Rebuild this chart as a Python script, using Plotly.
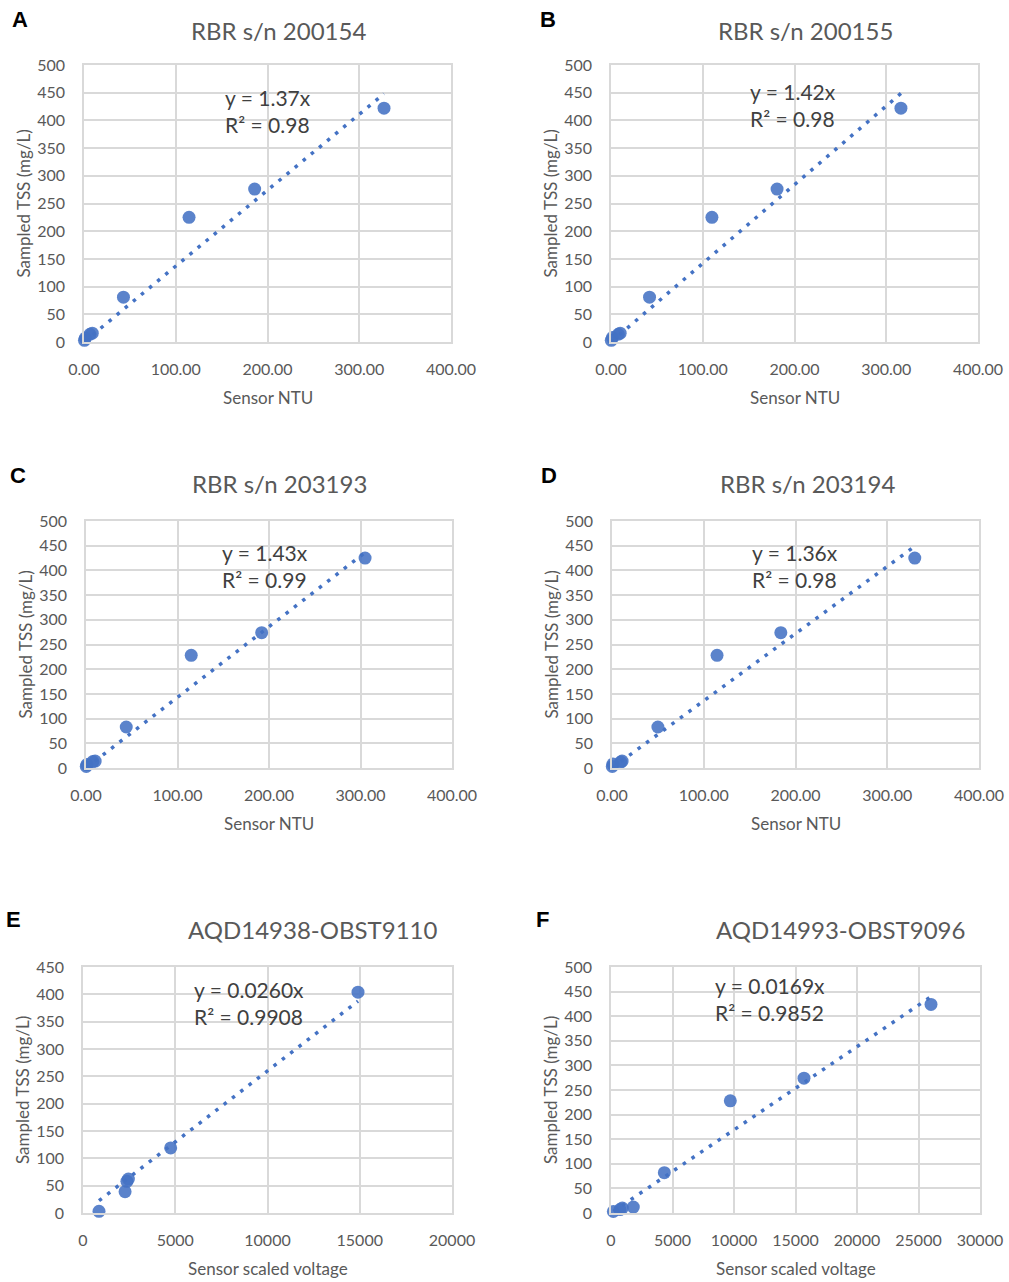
import plotly.graph_objects as go

W, H = 1009, 1282

# ---------------- data ----------------
letters = ["A", "B", "C", "D", "E", "F"]
titles = ["RBR s/n 200154", "RBR s/n 200155", "RBR s/n 203193",
          "RBR s/n 203194", "AQD14938-OBST9110", "AQD14993-OBST9096"]
x_titles = ["Sensor NTU", "Sensor NTU", "Sensor NTU", "Sensor NTU",
            "Sensor scaled voltage", "Sensor scaled voltage"]
y_title = "Sampled TSS (mg/L)"

a_x = [0.5, 1.5, 6.5, 9, 43, 114.5, 186, 327]
a_y = [3, 7, 14, 16, 81, 225, 276, 422]
b_x = [0.3, 1.5, 8, 10, 42, 110, 181, 316]
b_y = [3, 8, 14, 16, 81, 225, 276, 422]
c_x = [0.3, 1, 7.5, 10, 44, 115, 192, 305]
c_y = [3, 7, 13, 14, 83, 228, 274, 425]
d_x = [0.3, 1, 9.5, 11, 50, 114.5, 184, 330]
d_y = [3, 8, 12, 14, 83, 228, 274, 425]
e_x = [867, 2280, 2380, 2460, 4752, 14905]
e_y = [3, 39, 58, 62, 119, 404]
f_x = [190, 730, 920, 1815, 4336, 9700, 15690, 26016]
f_y = [3, 7, 10, 12, 82, 228, 274, 424]

slopes = [1.37, 1.42, 1.43, 1.36, 0.0260, 0.0169]
eq_text = ["y = 1.37x", "y = 1.42x", "y = 1.43x", "y = 1.36x",
           "y = 0.0260x", "y = 0.0169x"]
r2_text = ["R² = 0.98", "R² = 0.98", "R² = 0.99", "R² = 0.98",
           "R² = 0.9908", "R² = 0.9852"]

x_ranges = [[0, 400]] * 4 + [[0, 20000], [0, 30000]]
x_dticks = [100] * 4 + [5000, 5000]
x_formats = [".2f"] * 4 + ["d", "d"]
y_ranges = [[0, 500]] * 4 + [[0, 450], [0, 500]]

series = [(a_x, a_y), (b_x, b_y), (c_x, c_y), (d_x, d_y), (e_x, e_y), (f_x, f_y)]

# ---------------- layout (pixel boxes of plot areas) ----------------
boxes = [  # left, top, right, bottom
    (84, 65, 451, 342), (611, 65, 978, 342),
    (86, 521, 452, 768), (612, 521, 979, 768),
    (83, 967, 452, 1213), (611, 967, 980, 1213),
]
title_pos = [(278, 30), (805, 30), (279, 483), (807, 483), (312, 929), (840, 929)]
letter_pos = [(20, 20), (548, 20), (18, 476), (549, 476), (13, 919), (542, 919)]
eq_pos = [(223, 111), (748, 105), (220, 566), (750, 566), (192, 1003), (713, 999)]

BLUE = "#4472C4"
GRID = "#D9D9D9"
TXT = "#595959"
FONT = "Lato"

def px(x):
    return x / W

def py(y):
    return 1 - y / H

fig = go.Figure()
annotations = []

for i, ((xs, ys), box) in enumerate(zip(series, boxes)):
    n = "" if i == 0 else str(i + 1)
    xa, ya = "x" + n, "y" + n
    l, t, r, b = box
    x0, x1 = min(xs), max(xs)
    fig.add_trace(go.Scatter(
        x=[x0, x1], y=[slopes[i] * x0, slopes[i] * x1], mode="lines",
        xaxis=xa, yaxis=ya,
        line=dict(color=BLUE, width=3.5, dash="3.5px,7px"),
        showlegend=False, hoverinfo="skip"))
    fig.add_trace(go.Scatter(
        x=xs, y=ys, mode="markers", xaxis=xa, yaxis=ya, cliponaxis=False,
        marker=dict(color=BLUE, size=13, symbol="circle", opacity=0.88,
                    line=dict(width=0)),
        showlegend=False, hoverinfo="x+y"))

    axcommon = dict(showgrid=True, gridcolor=GRID, gridwidth=1.5,
                    showline=True, linecolor=GRID, linewidth=1.5, mirror=True,
                    zeroline=False, ticks="", automargin=False,
                    tickfont=dict(family=FONT, size=16, color=TXT))
    fig.layout["xaxis" + n] = dict(
        domain=[px(l), px(r)], anchor=ya, range=x_ranges[i],
        dtick=x_dticks[i], tick0=0, tickformat=x_formats[i],
        ticklabelstandoff=12, **axcommon)
    fig.layout["yaxis" + n] = dict(
        domain=[py(b), py(t)], anchor=xa, range=y_ranges[i],
        dtick=50, tick0=0, ticklabelstandoff=14, **axcommon)

    # chart title
    tx, ty = title_pos[i]
    annotations.append(dict(text=titles[i], x=px(tx), y=py(ty), xref="paper",
                            yref="paper", showarrow=False, xanchor="center",
                            yanchor="middle",
                            font=dict(family=FONT, size=24, color=TXT)))
    # panel letter
    lx, ly = letter_pos[i]
    annotations.append(dict(text="<b>%s</b>" % letters[i], x=px(lx), y=py(ly),
                            xref="paper", yref="paper", showarrow=False,
                            xanchor="center", yanchor="middle",
                            font=dict(family="Liberation Sans", size=22,
                                      color="black")))
    # x-axis title
    annotations.append(dict(text=x_titles[i], x=px((l + r) / 2), y=py(b + 55),
                            xref="paper", yref="paper", showarrow=False,
                            xanchor="center", yanchor="middle",
                            font=dict(family=FONT, size=17, color=TXT)))
    # y-axis title
    annotations.append(dict(text=y_title, x=px(l - 61), y=py((t + b) / 2),
                            xref="paper", yref="paper", showarrow=False,
                            xanchor="center", yanchor="middle", textangle=-90,
                            font=dict(family=FONT, size=17, color=TXT)))
    # equation
    ex, ey = eq_pos[i]
    annotations.append(dict(text=eq_text[i] + "<br>" + r2_text[i],
                            x=px(ex), y=py(ey), xref="paper", yref="paper",
                            showarrow=False, xanchor="left", yanchor="middle",
                            align="left",
                            font=dict(family=FONT, size=21, color="#404040")))

fig.update_layout(width=W, height=H, margin=dict(l=0, r=0, t=0, b=0),
                  paper_bgcolor="white", plot_bgcolor="white",
                  annotations=annotations, showlegend=False)

fig.write_html("out.html")
